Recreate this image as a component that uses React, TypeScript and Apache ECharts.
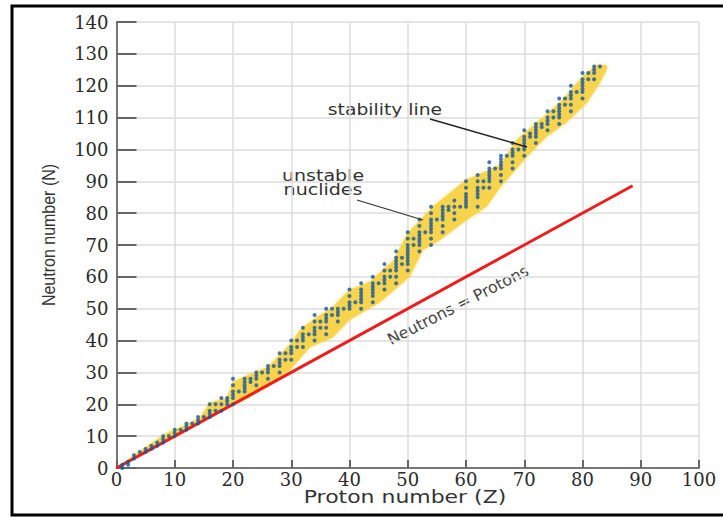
import React, { useEffect, useRef } from "react";
import * as echarts from "echarts";

// Stable nuclides: neutron numbers for each proton number Z = 1..83
const stableNeutrons: number[][] = [
  [0, 1], [1, 2], [3, 4], [5], [5, 6], [6, 7], [7, 8], [8, 9, 10], [10], [10, 11, 12],
  [12], [12, 13, 14], [14], [14, 15, 16], [16], [16, 17, 18, 20], [18, 20], [18, 20, 22], [20, 21, 22], [20, 22, 23, 24, 26, 28],
  [24], [24, 25, 26, 27, 28], [27, 28], [26, 28, 29, 30], [30], [28, 30, 31, 32], [32], [30, 32, 33, 34, 36], [34, 36], [34, 36, 37, 38, 40],
  [38, 40], [38, 40, 41, 42, 44], [42], [40, 42, 43, 44, 46, 48], [44, 46], [42, 44, 46, 47, 48, 50], [48, 50], [46, 48, 49, 50], [50], [50, 51, 52, 54, 56],
  [52], [50, 52, 53, 54, 55, 56, 58], [], [52, 54, 55, 56, 57, 58, 60], [58], [56, 58, 59, 60, 62, 64], [60, 62], [58, 60, 62, 63, 64, 65, 66, 68], [64, 66], [62, 64, 65, 66, 67, 68, 69, 70, 72, 74],
  [70, 72], [68, 70, 71, 72, 73, 74, 76, 78], [74], [70, 72, 74, 75, 76, 77, 78, 80, 82], [78], [74, 76, 78, 79, 80, 81, 82], [81, 82], [78, 80, 82, 84], [82], [82, 83, 84, 85, 86, 88, 90],
  [], [82, 85, 86, 87, 88, 90, 92], [88, 90], [88, 90, 91, 92, 93, 94, 96], [94], [90, 92, 94, 95, 96, 97, 98], [98], [94, 96, 98, 99, 100, 102], [100], [98, 100, 101, 102, 103, 104, 106],
  [104, 105], [102, 104, 105, 106, 107, 108], [107, 108], [106, 108, 109, 110, 112], [110, 112], [108, 110, 111, 112, 113, 114, 116], [114, 116], [112, 114, 116, 117, 118, 120], [118], [116, 118, 119, 120, 121, 122, 124],
  [122, 124], [122, 124, 125, 126], [126],
];

// Band of unstable nuclides: upper and lower edges (Z, N)
const bandUpperZ = [0, 3, 8.6, 11.4, 14.3, 16, 19, 20, 23, 26, 30, 31.5, 34.4, 37, 40, 43.5, 45, 47.5, 50, 54.3, 60, 65.8, 68.7, 73.8, 76.6, 80, 82.4, 84];
const bandUpperN = [0, 4, 11, 13, 15.7, 20.4, 22, 27, 29.5, 31.7, 39.2, 43.3, 47.4, 50.2, 55.9, 58.4, 61, 65, 73.7, 82, 90.4, 95, 103, 111, 115.5, 122.8, 126.5, 126.5];
const bandLowerZ = [0, 10, 20, 22, 25.8, 29.8, 33.2, 37.1, 40, 45.2, 50.3, 52.6, 55.5, 60, 63.5, 65.8, 70.4, 73.8, 77.3, 80.7, 83, 84.3];
const bandLowerN = [0, 9.8, 20, 21.5, 25.4, 30.8, 38, 41, 46.5, 52, 60, 68.4, 71.6, 77.8, 82, 88, 97.6, 104, 108.6, 114.6, 121, 125.6];

// Neutrons = Protons line
const equalLine = [[0, 0], [88.6, 88.6]];

export default function App() {
  const ref = useRef<HTMLDivElement>(null);
  useEffect(() => {
    if (!ref.current) return;
    const chart = echarts.init(ref.current, null, { renderer: "svg" });
    const dots: number[][] = [];
    stableNeutrons.forEach((ns, i) => ns.forEach((n) => dots.push([i + 1, n])));

    const labelStyle = { fontFamily: "DejaVu Serif", fontSize: 18, color: "#2a2a2a" };

    chart.setOption({
      animation: false,
      backgroundColor: "#ffffff",
      grid: { left: 116.5, right: 24, top: 22, bottom: 49 },
      xAxis: {
        type: "value",
        min: 0,
        max: 100,
        interval: 10,
        axisLine: { show: true, lineStyle: { color: "#777", width: 2 } },
        axisTick: { show: true, inside: true, length: 8, lineStyle: { color: "#666", width: 2 } },
        axisLabel: { margin: 2, ...labelStyle },
        splitLine: { show: true, lineStyle: { color: "#dcdcdc", width: 1.5 } },
      },
      yAxis: {
        type: "value",
        min: 0,
        max: 140,
        interval: 10,
        axisLine: { show: true, lineStyle: { color: "#777", width: 2 } },
        axisTick: { show: true, inside: true, length: 20, lineStyle: { color: "#666", width: 2 } },
        axisLabel: { margin: 8, ...labelStyle },
        splitLine: { show: true, lineStyle: { color: "#dcdcdc", width: 1.5 } },
      },
      series: [
        {
          type: "custom",
          silent: true,
          data: [[0, 0]],
          renderItem: (_params: any, api: any) => {
            const pts: number[][] = [];
            for (let i = 0; i < bandUpperZ.length; i++) pts.push(api.coord([bandUpperZ[i], bandUpperN[i]]));
            for (let i = bandLowerZ.length - 1; i >= 0; i--) pts.push(api.coord([bandLowerZ[i], bandLowerN[i]]));
            return {
              type: "polygon",
              shape: { points: pts },
              style: { fill: "#f7d44c", shadowBlur: 3, shadowColor: "#f7d44c" },
            };
          },
          z: 1,
        },
        {
          type: "line",
          data: equalLine,
          symbol: "none",
          lineStyle: { color: "#ee1d1d", width: 3 },
          silent: true,
          z: 2,
        },
        {
          type: "scatter",
          data: dots,
          symbol: "circle",
          symbolSize: 4,
          itemStyle: { color: "#14589e" },
          silent: true,
          z: 3,
        },
      ],
      graphic: [
        {
          type: "rect",
          shape: { x: 12, y: 6, width: 720, height: 509 },
          style: { fill: "none", stroke: "#000", lineWidth: 3 },
          silent: true,
        },
        {
          type: "text",
          x: 48,
          y: 235,
          rotation: Math.PI / 2,
          scaleY: 1.2,
          style: {
            text: "Neutron number (N)",
            fontFamily: "Liberation Sans",
            fontSize: 16,
            fill: "#333",
            align: "center",
            verticalAlign: "middle",
          },
        },
        {
          type: "text",
          x: 405,
          y: 497,
          scaleX: 1.22,
          style: {
            text: "Proton number (Z)",
            fontFamily: "DejaVu Sans",
            fontSize: 18,
            fill: "#333",
            align: "center",
            verticalAlign: "middle",
          },
        },
        {
          type: "text",
          x: 385,
          y: 110,
          scaleX: 1.25,
          style: {
            text: "stability line",
            fontFamily: "DejaVu Sans",
            fontSize: 15,
            fill: "#333",
            align: "center",
            verticalAlign: "middle",
          },
        },
        {
          type: "text",
          x: 323,
          y: 183,
          scaleX: 1.27,
          style: {
            text: "unstable\nnuclides",
            fontFamily: "DejaVu Sans",
            fontSize: 15,
            lineHeight: 14,
            fill: "#333",
            align: "center",
            verticalAlign: "middle",
          },
        },
        {
          type: "line",
          shape: { x1: 430, y1: 119, x2: 527, y2: 147 },
          style: { stroke: "#222", lineWidth: 1.5 },
          z: 10,
        },
        {
          type: "line",
          shape: { x1: 357, y1: 200, x2: 423, y2: 220 },
          style: { stroke: "#333", lineWidth: 1.3 },
          z: 10,
        },
        {
          type: "text",
          x: 458,
          y: 305,
          rotation: (27 * Math.PI) / 180,
          style: {
            text: "Neutrons = Protons",
            fontFamily: "DejaVu Sans",
            fontSize: 16,
            fill: "#444",
            align: "center",
            verticalAlign: "middle",
          },
        },
      ],
    });
    return () => chart.dispose();
  }, []);
  return (
    <div
      ref={ref}
      style={{ position: "absolute", left: 0, top: 0, width: 723, height: 517 }}
    />
  );
}
